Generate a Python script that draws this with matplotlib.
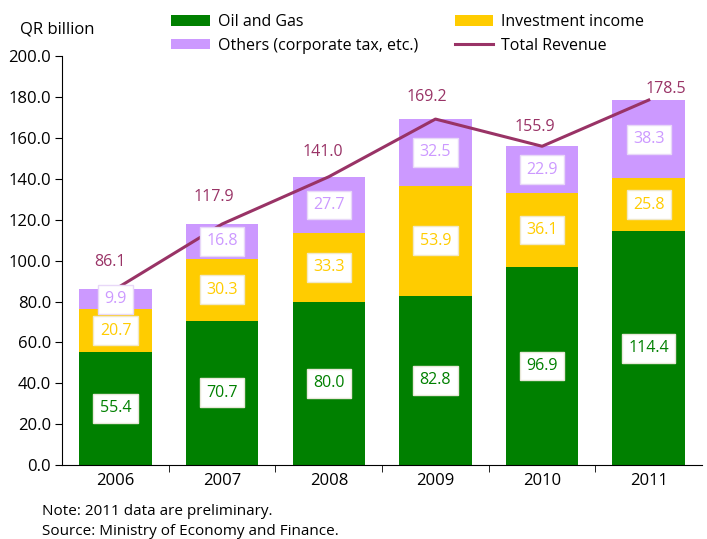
import numpy as np
import matplotlib.pyplot as plt

plt.rcParams['font.family'] = ['Open Sans', 'DejaVu Sans']

# data (QR billion)
years = ['2006', '2007', '2008', '2009', '2010', '2011']
oil_gas = [55.4, 70.7, 80.0, 82.8, 96.9, 114.4]
investment = [20.7, 30.3, 33.3, 53.9, 36.1, 25.8]
others = [9.9, 16.8, 27.7, 32.5, 22.9, 38.3]
total = [86.1, 117.9, 141.0, 169.2, 155.9, 178.5]

c_oil = '#008000'
c_inv = '#FFCC00'
c_oth = '#CC99FF'
c_tot = '#993366'

fig = plt.figure(figsize=(7.07, 5.39), dpi=100)
ax = fig.add_axes([0.088, 0.137, 0.905, 0.759])

x = np.arange(len(years))
w = 0.68
oil = np.array(oil_gas)
inv = np.array(investment)
oth = np.array(others)

b1 = ax.bar(x, oil, w, color=c_oil, label='Oil and Gas')
b2 = ax.bar(x, inv, w, bottom=oil, color=c_inv, label='Investment income')
b3 = ax.bar(x, oth, w, bottom=oil + inv, color=c_oth, label='Others (corporate tax, etc.)')
ln, = ax.plot(x, total, color=c_tot, lw=2.2, label='Total Revenue')

# value boxes inside the segments
def box_labels(vals, bottoms, color, edge):
    for xi, v, b in zip(x, vals, bottoms):
        ax.text(xi, b + v / 2, f'{v:.1f}', ha='center', va='center', color=color,
                fontsize=11.5,
                bbox=dict(boxstyle='square,pad=0.4', fc='white', ec=edge, lw=1))

box_labels(oil, np.zeros(len(x)), c_oil, '#e8e8d8')
box_labels(inv, oil, c_inv, '#f0e8c8')
box_labels(oth, oil + inv, c_oth, '#e8d8f8')

# total labels
offsets = [(-4, 14), (-6, 14), (-4, 12), (-6, 10), (-5, 8), (12, 2)]
for xi, t, (dx, dy) in zip(x, total, offsets):
    ax.annotate(f'{t:.1f}', (xi, t), xytext=(dx, dy), textcoords='offset points',
                ha='center', va='bottom', color=c_tot, fontsize=11.5)

ax.set_xlim(-0.5, 5.5)
ax.set_ylim(0, 200)
ax.set_yticks(np.arange(0, 201, 20))
ax.set_yticklabels([f'{v:.1f}' for v in np.arange(0, 201, 20)], fontsize=12)
ax.set_xticks(x)
ax.set_xticklabels(years, fontsize=12)
ax.tick_params(axis='x', which='major', length=0, pad=6)
ax.set_xticks(np.arange(0.5, 5.5, 1), minor=True)
ax.tick_params(axis='x', which='minor', length=5, direction='out')
ax.tick_params(axis='y', length=5, direction='out', pad=3)
ax.spines['top'].set_visible(False)
ax.spines['right'].set_visible(False)

fig.text(0.028, 0.937, 'QR billion', fontsize=12)

# legend rows: Oil/Investment on top, Others/Total below
fig.legend(handles=[b1, b3, b2, ln], ncol=2, loc='upper left',
           bbox_to_anchor=(0.222, 1.0), frameon=False, fontsize=11.5,
           handlelength=2.4, handleheight=0.65, columnspacing=2.3,
           labelspacing=0.45, handletextpad=0.5)

fig.text(0.06, 0.045, 'Note: 2011 data are preliminary.', fontsize=11)
fig.text(0.06, 0.008, 'Source: Ministry of Economy and Finance.', fontsize=11)

fig.savefig('out.png', dpi=100)
